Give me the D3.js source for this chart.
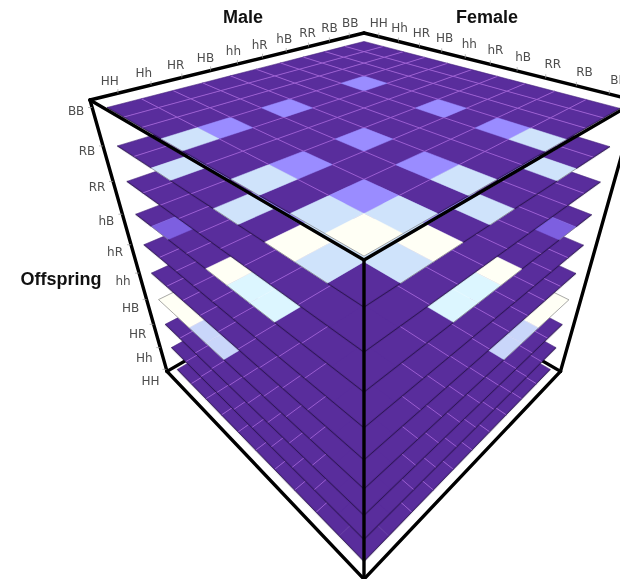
<!DOCTYPE html>
<html><head><meta charset="utf-8">
<style>html,body{margin:0;padding:0;background:#fff;overflow:hidden}svg{display:block;filter:blur(0.55px)}</style>
<script src="https://cdn.jsdelivr.net/npm/d3@7/dist/d3.min.js"></script>
</head><body><svg id="chart" width="620" height="579"></svg>
<script>
// Axis labels
const genotypes = ["HH","Hh","HR","HB","hh","hR","hB","RR","RB","BB"];
const maleTicks = genotypes;
const femaleTicks = genotypes;
const offspringTicks = genotypes.slice().reverse();   // top layer first

// Cell values per offspring layer; rows run from the front corner to the left corner,
// columns from the front corner to the right corner.
const layerBB = [
[1,.5,0,.5,0,0,.5,0,0,0],[.5,.25,0,.25,0,0,.25,0,0,0],[0,0,0,0,0,0,0,0,0,0],[.5,.25,0,.25,0,0,.25,0,0,0],[0,0,0,0,0,0,0,0,0,0],
[0,0,0,0,0,0,0,0,0,0],[.5,.25,0,.25,0,0,.25,0,0,0],[0,0,0,0,0,0,0,0,0,0],[0,0,0,0,0,0,0,0,0,0],[0,0,0,0,0,0,0,0,0,0]];
const layerRB = [
[0,.5,1,0,.5,0,0,.5,0,0],[.5,.5,.5,.25,.25,0,.25,.25,0,0],[1,.5,0,.5,0,0,.5,0,0,0],[0,.25,.5,0,.25,0,0,.25,0,0],[.5,.25,0,.25,0,0,.25,0,0,0],
[0,0,0,0,0,0,0,0,0,0],[0,.25,.5,0,.25,0,0,.25,0,0],[.5,.25,0,.25,0,0,.25,0,0,0],[0,0,0,0,0,0,0,0,0,0],[0,0,0,0,0,0,0,0,0,0]];
const layerRR = [
[0,0,0,0,0,0,0,0,0,0],[0,.25,.5,0,.25,0,0,.25,0,0],[0,.5,1,0,.5,0,0,.5,0,0],[0,0,0,0,0,0,0,0,0,0],[0,.25,.5,0,.25,0,0,.25,0,0],
[0,0,0,0,0,0,0,0,0,0],[0,0,0,0,0,0,0,0,0,0],[0,.25,.5,0,.25,0,0,.25,0,0],[0,0,0,0,0,0,0,0,0,0],[0,0,0,0,0,0,0,0,0,0]];
const layerhB = [
[0,0,0,.6,.6,1,0,0,.15,0],[0,0,0,.25,.25,.5,0,0,.25,0],[0,0,0,0,0,0,0,0,0,0],[.6,.25,0,.5,.25,.5,.25,0,.25,0],[.6,.25,0,.25,0,0,.25,0,0,0],
[1,.5,0,.5,0,0,.5,0,0,0],[0,0,0,.25,.25,.5,0,0,.25,0],[0,0,0,0,0,0,0,0,0,0],[.15,.25,0,.25,0,0,.25,0,0,0],[0,0,0,0,0,0,0,0,0,0]];
const layerhR = [
[0,0,0,0,0,0,0,0,0,0],[0,0,0,.25,.25,.5,0,0,.25,0],[0,0,0,.5,.5,1,0,0,.5,0],[0,.25,.5,0,.25,0,0,.25,0,0],[0,.25,.5,.25,.5,.5,0,.25,.25,0],
[0,.5,1,0,.5,0,0,.5,0,0],[0,0,0,0,0,0,0,0,0,0],[0,0,0,.25,.25,.5,0,0,.25,0],[0,.25,.5,0,.25,0,0,.25,0,0],[0,0,0,0,0,0,0,0,0,0]];
const layerhh = [
[0,0,0,0,0,0,0,0,0,0],[0,0,0,0,0,0,0,0,0,0],[0,0,0,0,0,0,0,0,0,0],[0,0,0,.25,.25,.5,0,0,.25,0],[0,0,0,.25,.25,.5,0,0,.25,0],
[0,0,0,.5,.5,1,0,0,.5,0],[0,0,0,0,0,0,0,0,0,0],[0,0,0,0,0,0,0,0,0,0],[0,0,0,.25,.25,.5,0,0,.25,0],[0,0,0,0,0,0,0,0,0,0]];
const layerHB = [
[0,0,0,0,0,0,.45,.45,1,1],[0,0,0,0,0,0,.25,.25,.25,.5],[0,0,0,0,0,0,0,0,0,0],[0,0,0,0,0,0,.25,.25,.25,.5],[0,0,0,0,0,0,0,0,0,0],
[0,0,0,0,0,0,0,0,0,0],[.45,.25,0,.25,0,0,.5,.25,.25,.5],[.45,.25,0,.25,0,0,.25,0,0,0],[1,.25,0,.25,0,0,.25,0,0,0],[1,.5,0,.5,0,0,.5,0,0,0]];
const layerHR = [
[0,0,0,0,0,0,0,0,0,0],[0,0,0,0,0,0,.25,.25,.25,.5],[0,0,0,0,0,0,.5,.5,.5,1],[0,0,0,0,0,0,0,0,0,0],[0,0,0,0,0,0,.25,.25,.25,.5],
[0,0,0,0,0,0,0,0,0,0],[0,.25,.5,0,.25,0,0,.25,0,0],[0,.25,.5,0,.25,0,.25,.5,.25,.5],[0,.25,.5,0,.25,0,0,.25,0,0],[0,.5,1,0,.5,0,0,.5,0,0]];
const layerHh = [
[0,0,0,0,0,0,0,0,0,0],[0,0,0,0,0,0,0,0,0,0],[0,0,0,0,0,0,0,0,0,0],[0,0,0,0,0,0,.25,.25,.25,.5],[0,0,0,0,0,0,.25,.25,.25,.5],
[0,0,0,0,0,0,.5,.5,.5,1],[0,0,0,.25,.25,.5,0,0,.25,0],[0,0,0,.25,.25,.5,0,0,.25,0],[0,0,0,.25,.25,.5,.25,.25,.5,.5],[0,0,0,.5,.5,1,0,0,.5,0]];
const layerHH = [
[0,0,0,0,0,0,0,0,0,0],[0,0,0,0,0,0,0,0,0,0],[0,0,0,0,0,0,0,0,0,0],[0,0,0,0,0,0,0,0,0,0],[0,0,0,0,0,0,0,0,0,0],
[0,0,0,0,0,0,0,0,0,0],[0,0,0,0,0,0,.25,.25,.25,.5],[0,0,0,0,0,0,.25,.25,.25,.5],[0,0,0,0,0,0,.25,.25,.25,.5],[0,0,0,0,0,0,.5,.5,.5,1]];
const layers = [layerBB,layerRB,layerRR,layerhB,layerhR,layerhh,layerHB,layerHR,layerHh,layerHH];

const colorStops = [0,.15,.25,.45,.5,.6,1];
const colorRange = ["#592d9c","#7d5fe0","#9a8cff","#c9d6fa","#cfe3fb","#dcf6ff","#fffff5"];
const color = d3.scaleLinear().domain(colorStops).range(colorRange);

// Perspective camera of the cube: u along the male edge, v along the female edge, t downward.
const camera = {
  X:[422.46,126.87,142.27,90],
  Y:[-53.54,54.91,416.5,100],
  W:[0.40785,-0.40419,0.39086,1]
};
const project = (u,v,t) => {
  const w = camera.W[0]*u+camera.W[1]*v+camera.W[2]*t+camera.W[3];
  return [(camera.X[0]*u+camera.X[1]*v+camera.X[2]*t+camera.X[3])/w,
          (camera.Y[0]*u+camera.Y[1]*v+camera.Y[2]*t+camera.Y[3])/w];
};

const inset = 0.0273;
const colScale = d3.scaleLinear().domain([0,10]).range([inset,1-inset]);   // column → u
const rowScale = d3.scaleLinear().domain([0,10]).range([1-inset,inset]);   // row → v
const levelScale = d3.scaleLinear().domain([0,9]).range([0.02,0.99]);      // layer → t

const svg = d3.select("#chart");
const line = d3.line();
const W = 3.4;
const edge = (g,a,b,w) => g.append("path").attr("d",line([project(...a),project(...b)]))
  .attr("stroke","#000").attr("stroke-width",w).attr("fill","none").attr("stroke-linecap","round");

// Hidden back edges of the cube
const back = svg.append("g");
edge(back,[0,0,1],[1,0,1],W);
edge(back,[1,1,1],[1,0,1],W);

// Layers, bottom first
const isDark = v => v < 0.1;
const isPale = v => v >= 0.4;
d3.range(layers.length-1,-1,-1).forEach(k => {
  const t = levelScale(k), data = layers[k];
  const g = svg.append("g");
  const cells = [];
  data.forEach((row,r) => row.forEach((val,c) => cells.push({r,c,val})));
  cells.sort((a,b)=>d3.ascending(a.val,b.val));
  g.selectAll("path.c").data(cells).join("path").attr("class","c")
    .attr("d",d => line([[colScale(d.c),rowScale(d.r)],[colScale(d.c+1),rowScale(d.r)],
                         [colScale(d.c+1),rowScale(d.r+1)],[colScale(d.c),rowScale(d.r+1)]]
                 .map(p=>project(p[0],p[1],t)))+"Z")
    .attr("fill",d=>color(d.val)).attr("stroke",d=>color(d.val)).attr("stroke-width",0.5);
  // Cell boundaries. On the lower layers the first boundary inside each front edge
  // lies under the layer above, so it is not drawn.
  const hideFirst = k >= 2;
  const segs = [];
  data.forEach((row,r) => row.forEach((val,c) => {
    if (c>0 && !(hideFirst && c===1)) {
      const n = row[c-1];
      if (isDark(val)&&isDark(n)) segs.push({pale:false,p:[[colScale(c),rowScale(r),t],[colScale(c),rowScale(r+1),t]]});
      else if (val===n&&isPale(val)) segs.push({pale:true,p:[[colScale(c),rowScale(r),t],[colScale(c),rowScale(r+1),t]]});
    }
    if (r>0 && !(hideFirst && r===1)) {
      const n = data[r-1][c];
      if (isDark(val)&&isDark(n)) segs.push({pale:false,p:[[colScale(c),rowScale(r),t],[colScale(c+1),rowScale(r),t]]});
      else if (val===n&&isPale(val)) segs.push({pale:true,p:[[colScale(c),rowScale(r),t],[colScale(c+1),rowScale(r),t]]});
    }
  }));
  g.selectAll("path.g").data(segs).join("path").attr("class","g")
    .attr("d",d=>line(d.p.map(p=>project(...p))))
    .attr("stroke",d=>d.pale?"#fff":"#a263d6")
    .attr("stroke-opacity",d=>d.pale?0.5:1)
    .attr("stroke-width",d=>d.pale?0.6:0.9).attr("fill","none");
  // Layer rim: a soft dark edge along the front of dark cells, a thin grey one elsewhere
  const rim = [];
  data.forEach((row,r) => row.forEach((val,c) => {
    if (c===0) rim.push({f:true,val,p:[[colScale(0),rowScale(r),t],[colScale(0),rowScale(r+1),t]]});
    if (r===0) rim.push({f:true,val,p:[[colScale(c),rowScale(0),t],[colScale(c+1),rowScale(0),t]]});
    if (c===9) rim.push({f:false,val,p:[[colScale(10),rowScale(r),t],[colScale(10),rowScale(r+1),t]]});
    if (r===9) rim.push({f:false,val,p:[[colScale(c),rowScale(10),t],[colScale(c+1),rowScale(10),t]]});
  }));
  g.selectAll("path.h").data(rim.filter(d=>d.f&&isDark(d.val))).join("path").attr("class","h")
    .attr("d",d=>line(d.p.map(p=>project(...p)))).attr("fill","none")
    .attr("stroke","#1a0a40").attr("stroke-opacity",0.13).attr("stroke-width",2.2);
  g.selectAll("path.o").data(rim).join("path").attr("class","o")
    .attr("d",d=>line(d.p.map(p=>project(...p)))).attr("fill","none")
    .attr("stroke",d=>isDark(d.val)?"#000":"#777")
    .attr("stroke-opacity",d=>isDark(d.val)?(d.f?0.5:0.15):0.8)
    .attr("stroke-width",0.8);
});

// Front frame
const front = svg.append("g");
edge(front,[0,0,0],[1,0,0],W); edge(front,[1,0,0],[1,1,0],W);
edge(front,[1,1,0],[0,1,0],W); edge(front,[0,1,0],[0,0,0],W);
edge(front,[0,1,0],[0,1,1],W); edge(front,[0,0,0],[0,0,1],W);
edge(front,[1,1,0],[1,1,1],W); edge(front,[0,0,1],[0,1,1],W); edge(front,[0,1,1],[1,1,1],W);

// Tick labels
const band = d3.scaleBand().domain(genotypes).range([0,10]);
const tickFont = {family:"'DejaVu Sans',sans-serif",size:"12px",fill:"#4d4d4d"};
const label = (txt,x,y,anchor) => svg.append("text").text(txt).attr("x",x).attr("y",y)
  .attr("text-anchor",anchor||"middle").attr("font-family",tickFont.family)
  .attr("font-size",tickFont.size).attr("fill",tickFont.fill);
const tick = (p,dx,dy) => svg.append("path").attr("d",line([p,[p[0]+dx,p[1]+dy]]))
  .attr("stroke","#999").attr("stroke-width",0.7);
maleTicks.forEach(g => {
  const u = colScale(band(g)+band.bandwidth()/2);
  const p = project(u,0,0);
  tick(p,0,-4);
  label(g,p[0]+2-11*(1-u),p[1]-10+2*(1-u));
});
femaleTicks.forEach(g => {
  const v = 1-rowScale(band(g)+band.bandwidth()/2);
  const p = project(1,v,0);
  tick(p,0,-4);
  label(g,p[0]-1+11*v,p[1]-10);
});
offspringTicks.forEach((g,k) => {
  const p = project(0,0,levelScale(k));
  tick(p,-4,0);
  label(g,p[0]-16,p[1]+8+0.8*k,"middle");
});

// Axis titles
const title = (txt,x,y) => svg.append("text").text(txt).attr("x",x).attr("y",y)
  .attr("text-anchor","middle").attr("font-family","'Liberation Sans',Arial,sans-serif")
  .attr("font-weight","bold").attr("font-size","18px").attr("fill","#111");
title("Male",243,23);
title("Female",487,23);
title("Offspring",61,285);
</script></body></html>
